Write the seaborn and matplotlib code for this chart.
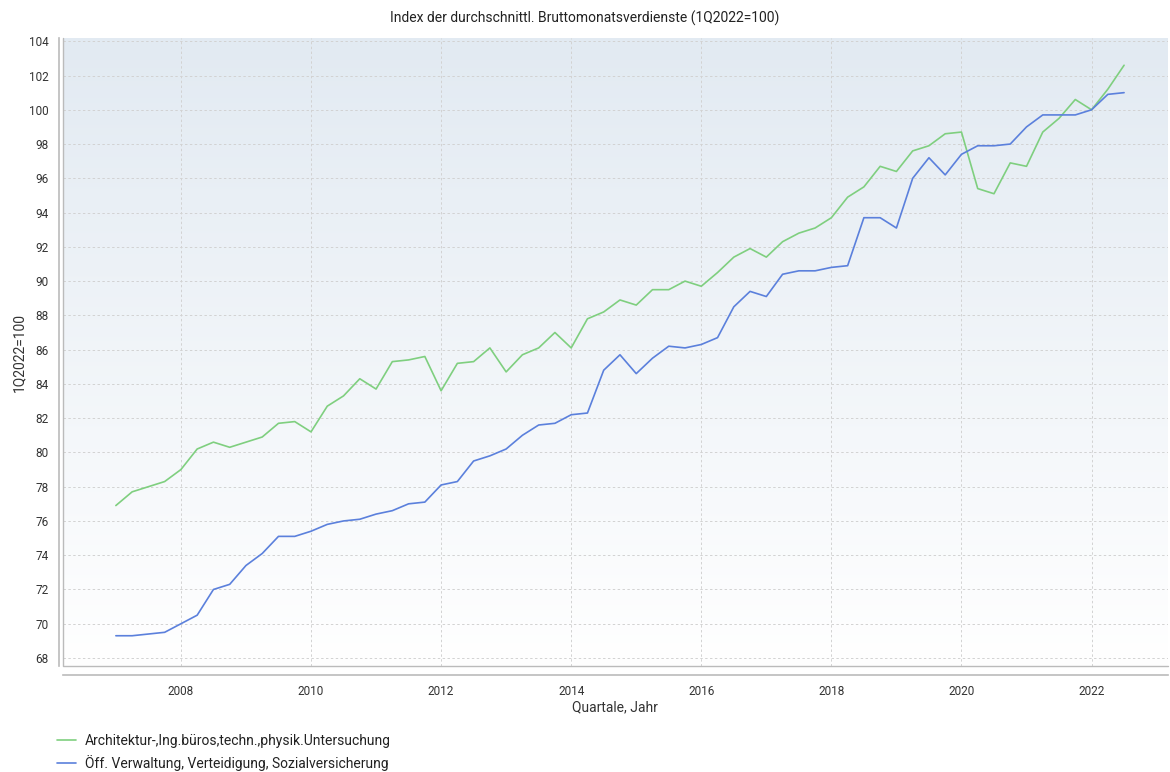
import numpy as np
import pandas as pd
import matplotlib.pyplot as plt
import seaborn as sns

# Quartale 1Q2007 .. 3Q2022
quartale = pd.period_range("2007Q1", "2022Q3", freq="Q")

architektur = [
    76.9, 77.7, 78.0, 78.3, 79.0, 80.2, 80.6, 80.3,
    80.6, 80.9, 81.7, 81.8, 81.2, 82.7, 83.3, 84.3,
    83.7, 85.3, 85.4, 85.6, 83.6, 85.2, 85.3, 86.1,
    84.7, 85.7, 86.1, 87.0, 86.1, 87.8, 88.2, 88.9,
    88.6, 89.5, 89.5, 90.0, 89.7, 90.5, 91.4, 91.9,
    91.4, 92.3, 92.8, 93.1, 93.7, 94.9, 95.5, 96.7,
    96.4, 97.6, 97.9, 98.6, 98.7, 95.4, 95.1, 96.9,
    96.7, 98.7, 99.5, 100.6, 100.0, 101.2, 102.6,
]
verwaltung = [
    69.3, 69.3, 69.4, 69.5, 70.0, 70.5, 72.0, 72.3,
    73.4, 74.1, 75.1, 75.1, 75.4, 75.8, 76.0, 76.1,
    76.4, 76.6, 77.0, 77.1, 78.1, 78.3, 79.5, 79.8,
    80.2, 81.0, 81.6, 81.7, 82.2, 82.3, 84.8, 85.7,
    84.6, 85.5, 86.2, 86.1, 86.3, 86.7, 88.5, 89.4,
    89.1, 90.4, 90.6, 90.6, 90.8, 90.9, 93.7, 93.7,
    93.1, 96.0, 97.2, 96.2, 97.4, 97.9, 97.9, 98.0,
    99.0, 99.7, 99.7, 99.7, 100.0, 100.9, 101.0,
]
serien = [
    "Architektur-,Ing.büros,techn.,physik.Untersuchung",
    "Öff. Verwaltung, Verteidigung, Sozialversicherung",
]
farben = ["#7fcf7f", "#5b80dc"]

jahr = quartale.year + (quartale.quarter - 1) / 4
df = pd.DataFrame({
    "Jahr": np.concatenate([jahr, jahr]),
    "Wert": architektur + verwaltung,
    "Reihe": [serien[0]] * len(architektur) + [serien[1]] * len(verwaltung),
})

sns.set_style("white")
plt.rcParams["font.family"] = ["Roboto", "DejaVu Sans"]

fig = plt.figure(figsize=(11.7, 7.72), dpi=100)
ax = fig.add_axes([0.054, 0.137, 0.944, 0.814])

# Hintergrund-Verlauf (oben blaugrau -> unten weiss)
grad = np.linspace(0, 1, 256).reshape(-1, 1)
cmap = sns.blend_palette(["#e2eaf2", "#ffffff"], as_cmap=True)
ax.imshow(grad, aspect="auto", cmap=cmap, extent=[0, 1, 0, 1],
          origin="upper", transform=ax.transAxes, zorder=0)

sns.lineplot(data=df, x="Jahr", y="Wert", hue="Reihe", palette=farben,
             linewidth=1.2, ax=ax, legend=False, zorder=3)

ax.set_xlim(2006.19, 2023.17)
ax.set_ylim(67.52, 104.2)
ax.set_xticks(range(2008, 2023, 2))
ax.set_yticks(range(68, 105, 2))
ax.grid(True, color="#d2d2d2", linestyle=(0, (2.5, 2.5)), linewidth=0.7, zorder=1)
ax.set_axisbelow(True)

for s in ["top", "right"]:
    ax.spines[s].set_visible(False)
ax.spines["bottom"].set_position(("outward", 6))
ax.spines["left"].set_position(("outward", 3))
for s in ["bottom", "left"]:
    ax.spines[s].set_color("#bbbbbb")
    ax.spines[s].set_linewidth(1.2)
# Rahmen der Zeichenfläche
ax.plot([0, 0, 1], [1, 0, 0], transform=ax.transAxes, color="#bbbbbb",
        linewidth=1.0, clip_on=False, zorder=4)

ax.tick_params(axis="both", labelsize=8.5, colors="#999999",
               labelcolor="#333333", length=4, width=0.8, direction="out")
ax.set_xlabel("Quartale, Jahr", fontsize=10, color="#333333", labelpad=2)
ax.set_ylabel("1Q2022=100", fontsize=10, color="#333333", labelpad=2)
fig.suptitle("Index der durchschnittl. Bruttomonatsverdienste (1Q2022=100)",
             fontsize=10, color="#222222", y=0.986)

handles = [plt.Line2D([], [], color=c, linewidth=1.2) for c in farben]
fig.legend(handles, serien, loc="upper left", bbox_to_anchor=(0.044, 0.056),
           frameon=False, fontsize=10, handlelength=1.4, handletextpad=0.6,
           labelspacing=0.5, borderaxespad=0, labelcolor="#222222")

fig.savefig("out.png", dpi=100)
